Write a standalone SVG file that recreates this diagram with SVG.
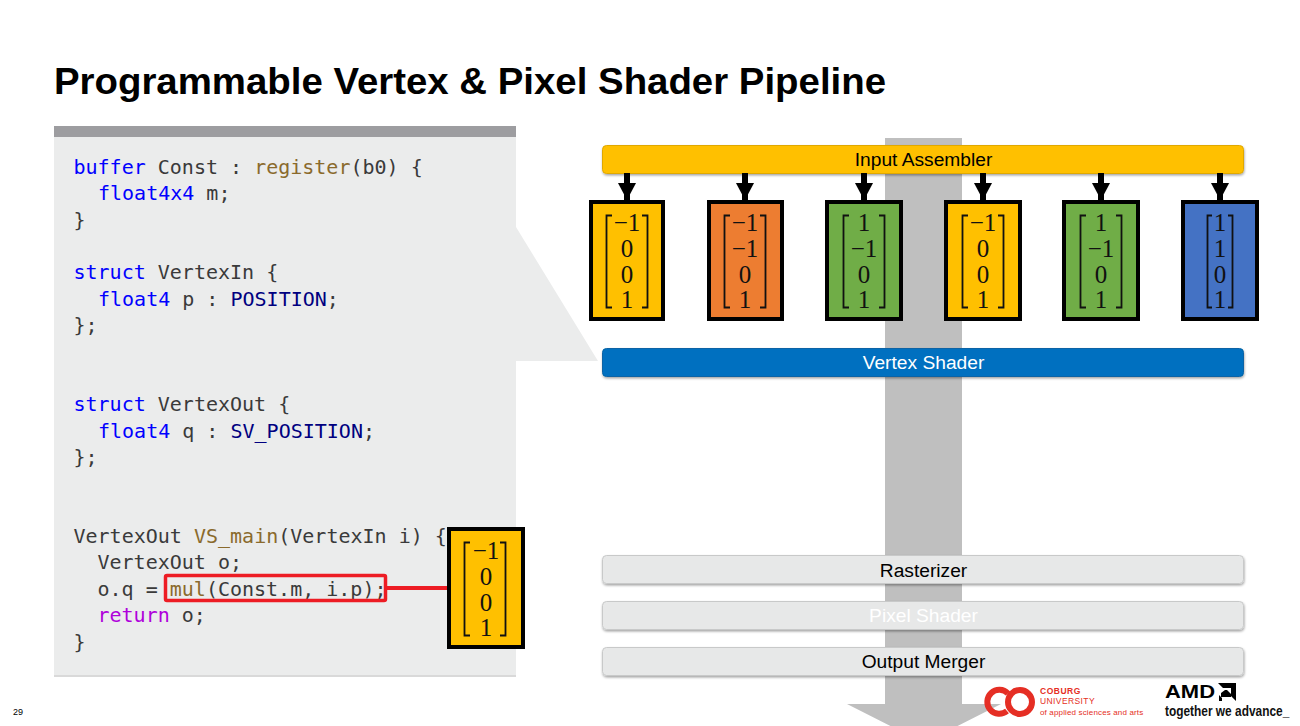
<svg xmlns="http://www.w3.org/2000/svg" width="1300" height="726" viewBox="0 0 1300 726">
<style>
.code{font-family:"DejaVu Sans Mono","Liberation Mono",monospace;font-size:20px;fill:#3a3a3a;white-space:pre}
.k{fill:#0000ff}.t{fill:#8a6a2c}.n{fill:#000080}.r{fill:#af00db}
.bar{font-family:"Liberation Sans",Arial,sans-serif;font-size:19.2px;text-anchor:middle}
.mx{font-family:"Liberation Serif","Times New Roman",serif;font-size:25px;text-anchor:middle;fill:#111}
.box{stroke:#000;stroke-width:4}
.br{fill:none;stroke:#111;stroke-width:1.8}
.stage{stroke:#c8c9c9;stroke-width:1;fill:#e7e8e8;filter:url(#sh)}
</style>
<defs>
<filter id="sh" x="-2%" y="-20%" width="104%" height="150%"><feDropShadow dx="0.5" dy="1.5" stdDeviation="1" flood-color="#000" flood-opacity="0.35"/></filter>
<marker id="ah" markerUnits="userSpaceOnUse" markerWidth="18" markerHeight="17" refX="9" refY="17" orient="0" viewBox="0 0 18 17"><path d="M0 0H18L9 17Z" fill="#000"/></marker>
</defs>
<rect width="1300" height="726" fill="#fff"/>
<text x="54" y="94" font-family="'Liberation Sans',Arial,sans-serif" font-weight="700" font-size="36" fill="#000" textLength="832" lengthAdjust="spacingAndGlyphs">Programmable Vertex &amp; Pixel Shader Pipeline</text>

<g id="code-panel">
<path d="M54 137H516V227L598 361H516V676H54Z" fill="#ebecec"/>
<rect x="54" y="126" width="462" height="11" fill="#9d9da0"/>
<rect x="54" y="675" width="462" height="2" fill="#d9d9d9"/>
<text class="code" x="73.500" y="174"><tspan class="k">buffer</tspan> Const : <tspan class="t">register</tspan>(b0) {</text>
<text class="code" x="98" y="200"><tspan class="k">float4x4</tspan> m;</text>
<text class="code" x="73.500" y="227">}</text>
<text class="code" x="73.500" y="279"><tspan class="k">struct</tspan> VertexIn {</text>
<text class="code" x="98" y="306"><tspan class="k">float4</tspan> p : <tspan class="n">POSITION</tspan>;</text>
<text class="code" x="73.500" y="332">};</text>
<text class="code" x="73.500" y="411"><tspan class="k">struct</tspan> VertexOut {</text>
<text class="code" x="98" y="438"><tspan class="k">float4</tspan> q : <tspan class="n">SV_POSITION</tspan>;</text>
<text class="code" x="73.500" y="464">};</text>
<text class="code" x="73.500" y="543">VertexOut <tspan class="t">VS_main</tspan>(VertexIn i) {</text>
<text class="code" x="97.500" y="569">VertexOut o;</text>
<text class="code" x="97.500" y="596">o.q = <tspan class="t">mul</tspan>(Const.m, i.p);</text>
<text class="code" x="97.500" y="622"><tspan class="r">return</tspan> o;</text>
<text class="code" x="73.500" y="649">}</text>
</g>

<g id="flow-arrow"><path d="M885 138H962V704H1001L924 743L847 704H885Z" fill="#bfbfbf"/></g>

<g id="input-assembler"><rect class="stage" x="602.500" y="145.500" width="641" height="28" rx="4" style="fill:#ffc000;stroke:#e0a800"/><text class="bar" x="923.500" y="166" fill="#000">Input Assembler</text></g>
<g id="vertex-shader"><rect class="stage" x="602.500" y="348.500" width="641" height="28" rx="4" style="fill:#0070c0;stroke:#0a63a5"/><text class="bar" x="923.500" y="369" fill="#fff">Vertex Shader</text></g>
<g id="rasterizer"><rect class="stage" x="602.500" y="555.500" width="641" height="28" rx="4"/><text class="bar" x="923.500" y="577" fill="#000">Rasterizer</text></g>
<g id="pixel-shader"><rect class="stage" x="602.500" y="601.500" width="641" height="28" rx="4"/><text class="bar" x="923.500" y="622" fill="#fff">Pixel Shader</text></g>
<g id="output-merger"><rect class="stage" x="602.500" y="647.500" width="641" height="28" rx="4"/><text class="bar" x="923.500" y="668" fill="#000">Output Merger</text></g>

<g id="connectors">
<g stroke="#000" stroke-width="6" marker-end="url(#ah)">
<line x1="627" y1="173" x2="627" y2="200"/>
<line x1="745" y1="173" x2="745" y2="200"/>
<line x1="864" y1="173" x2="864" y2="200"/>
<line x1="983" y1="173" x2="983" y2="200"/>
<line x1="1101" y1="173" x2="1101" y2="200"/>
<line x1="1220" y1="173" x2="1220" y2="200"/>
</g>
<rect x="165.500" y="575.500" width="220" height="25" rx="1.500" fill="none" stroke="#ed1c24" stroke-width="3.500"/>
<line x1="387" y1="588" x2="449" y2="588" stroke="#ed1c24" stroke-width="4"/>
</g>

<g id="vec-1"><rect class="box" x="591" y="202" width="72" height="117" fill="#ffc000"/><path class="br" d="M612 215.500H606.500V307.500H612M642 215.500H647.500V307.500H642"/><text class="mx" x="627" y="231">−1</text><text class="mx" x="627" y="257">0</text><text class="mx" x="627" y="283">0</text><text class="mx" x="627" y="308">1</text></g>
<g id="vec-2"><rect class="box" x="709" y="202" width="73" height="117" fill="#ed7d31"/><path class="br" d="M730 215.500H724.500V307.500H730M760 215.500H765.500V307.500H760"/><text class="mx" x="745" y="231">−1</text><text class="mx" x="745" y="257">−1</text><text class="mx" x="745" y="283">0</text><text class="mx" x="745" y="308">1</text></g>
<g id="vec-3"><rect class="box" x="827" y="202" width="74" height="117" fill="#70ad47"/><path class="br" d="M849 215.500H843.500V307.500H849M879 215.500H884.500V307.500H879"/><text class="mx" x="864" y="231">1</text><text class="mx" x="864" y="257">−1</text><text class="mx" x="864" y="283">0</text><text class="mx" x="864" y="308">1</text></g>
<g id="vec-4"><rect class="box" x="946" y="202" width="74" height="117" fill="#ffc000"/><path class="br" d="M968 215.500H962.500V307.500H968M998 215.500H1003.500V307.500H998"/><text class="mx" x="983" y="231">−1</text><text class="mx" x="983" y="257">0</text><text class="mx" x="983" y="283">0</text><text class="mx" x="983" y="308">1</text></g>
<g id="vec-5"><rect class="box" x="1064" y="202" width="74" height="117" fill="#70ad47"/><path class="br" d="M1086 215.500H1080.500V307.500H1086M1116 215.500H1121.500V307.500H1116"/><text class="mx" x="1101" y="231">1</text><text class="mx" x="1101" y="257">−1</text><text class="mx" x="1101" y="283">0</text><text class="mx" x="1101" y="308">1</text></g>
<g id="vec-6"><rect class="box" x="1183" y="202" width="74" height="117" fill="#4472c4"/><path class="br" d="M1212 215.500H1207.500V307.500H1212M1228 215.500H1232.500V307.500H1228"/><text class="mx" x="1220" y="231">1</text><text class="mx" x="1220" y="257">1</text><text class="mx" x="1220" y="283">0</text><text class="mx" x="1220" y="308">1</text></g>
<g id="vec-result"><rect class="box" x="449" y="529" width="74" height="118" fill="#ffc000"/><path class="br" d="M470 542.500H464.500V635.500H470M500 542.500H505.500V635.500H500"/><text class="mx" x="486" y="559">−1</text><text class="mx" x="486" y="585">0</text><text class="mx" x="486" y="611">0</text><text class="mx" x="486" y="636">1</text></g>

<g id="coburg-logo">
<path d="M1008 693.500A12 12 0 1 0 1007 711" fill="none" stroke="#e52e24" stroke-width="6"/>
<circle cx="1020" cy="702" r="12" fill="none" stroke="#e52e24" stroke-width="6"/>
<g font-family="'Liberation Sans',Arial,sans-serif" fill="#e52e24">
<text x="1040" y="694" font-size="8.500" font-weight="700" letter-spacing="0.500">COBURG</text>
<text x="1040" y="704" font-size="8.500" letter-spacing="0.400">UNIVERSITY</text>
<text x="1040" y="715" font-size="8" letter-spacing="0.150">of applied sciences and arts</text>
</g>
</g>
<g id="amd-logo">
<text x="1165" y="698" font-family="'Liberation Sans',Arial,sans-serif" font-weight="700" font-size="19" fill="#000" textLength="50" lengthAdjust="spacingAndGlyphs">AMD</text>
<path d="M1218 683H1236V701L1231 696V688H1223ZM1227 690L1231 694V697H1221V693L1225 690ZM1219 695L1222 698V701H1219Z" fill="#000"/>
<text transform="translate(1165 716) scale(0.85 1)" font-family="'Liberation Sans',Arial,sans-serif" font-weight="700" font-size="14" fill="#111">together we advance_</text>
</g>
<text id="page-number" x="13" y="715" font-family="'Liberation Sans',Arial,sans-serif" font-size="9" fill="#000">29</text>
</svg>
